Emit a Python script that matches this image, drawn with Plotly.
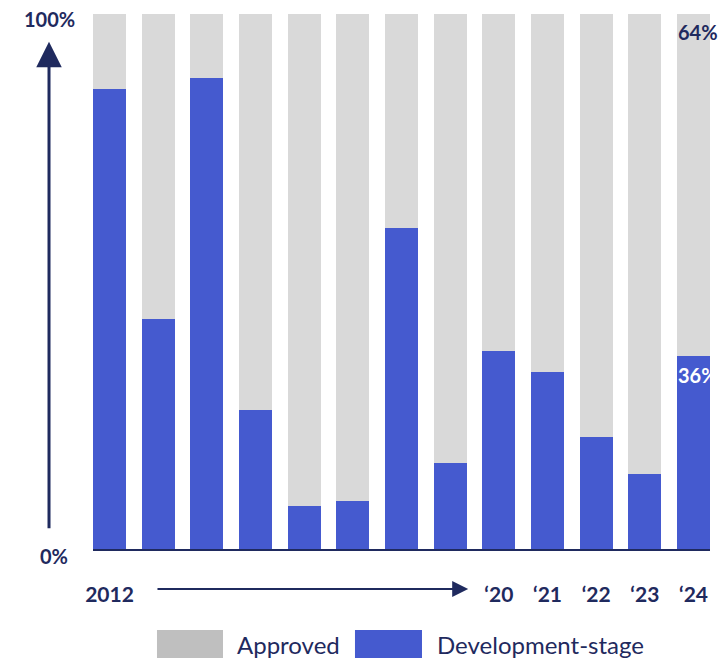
import plotly.graph_objects as go

years = ["2012", "2013", "2014", "2015", "2016", "2017", "2018", "2019",
         "2020", "2021", "2022", "2023", "2024"]
tick_labels = ["2012", "", "", "", "", "", "", "", "\u201820", "\u201821", "\u201822", "\u201823", "\u201824"]
development = [86, 43, 88, 26, 8, 9, 60, 16, 37, 33, 21, 14, 36]
approved = [14, 57, 12, 74, 92, 91, 40, 84, 63, 67, 79, 86, 64]

NAVY = "#1f2a5e"
BLUE = "#455acf"
GREY = "#d9d9d9"
FONT = "Lato"

x = list(range(len(years)))

fig = go.Figure()
fig.add_bar(x=x, y=development, marker_color=BLUE, name="Development-stage",
            marker_line_width=0)
fig.add_bar(x=x, y=approved, marker_color=GREY, name="Approved",
            marker_line_width=0)

fig.update_layout(
    barmode="stack", bargap=0.322,
    width=719, height=659,
    margin=dict(l=93, r=9, t=14, b=110),
    plot_bgcolor="white", paper_bgcolor="white",
    showlegend=False,
    font=dict(family=FONT, color=NAVY),
)
fig.update_xaxes(range=[-0.339, 12.339], tickvals=x, ticktext=tick_labels,
                 showline=True, linecolor=NAVY, linewidth=1.5, showgrid=False,
                 zeroline=False, ticks="", ticklabelstandoff=26,
                 tickfont=dict(family=FONT, size=21, color=NAVY, weight="bold"))
fig.update_yaxes(range=[0, 100], visible=False)

bold = dict(family=FONT, size=20, color=NAVY, weight="bold")

# value labels on the last bar
fig.add_annotation(x=12, y=100, text="64%", showarrow=False, yanchor="middle",
                   xanchor="center", xshift=4, yshift=-18, font=bold)
fig.add_annotation(x=12, y=development[-1], text="36%", showarrow=False,
                   yanchor="middle", xanchor="center", xshift=4, yshift=-19,
                   font=dict(family=FONT, size=20, color="white", weight="bold"))

# y-axis end labels
fig.add_annotation(xref="paper", yref="paper", x=-0.0713, y=0.99, text="100%",
                   showarrow=False, xanchor="center", yanchor="middle", font=bold)
fig.add_annotation(xref="paper", yref="paper", x=-0.063, y=-0.013, text="0%",
                   showarrow=False, xanchor="center", yanchor="middle", font=bold)

# vertical arrow
fig.add_annotation(xref="x domain", yref="y domain", axref="x domain", ayref="y domain",
                   x=-0.0713, y=0.948, ax=-0.0713, ay=0.036, text="",
                   showarrow=True, arrowhead=2, arrowsize=1.7, arrowwidth=3,
                   arrowcolor=NAVY)
# horizontal arrow
fig.add_annotation(xref="x", yref="y domain", axref="x", ayref="y domain",
                   x=7.37, y=-0.0747, ax=0.955, ay=-0.0747, text="",
                   showarrow=True, arrowhead=2, arrowsize=1.6, arrowwidth=2,
                   arrowcolor=NAVY)

# custom legend
fig.add_shape(type="rect", xref="paper", yref="paper", x0=0.1037, x1=0.2107,
              y0=-0.2037, y1=-0.1514, fillcolor="#bfbfbf", line_width=0)
fig.add_annotation(xref="paper", yref="paper", x=0.2301, y=-0.1776, text="Approved",
                   showarrow=False, xanchor="left", yanchor="middle",
                   font=dict(family=FONT, size=24, color=NAVY))
fig.add_shape(type="rect", xref="paper", yref="paper", x0=0.4246, x1=0.5332,
              y0=-0.2037, y1=-0.1514, fillcolor=BLUE, line_width=0)
fig.add_annotation(xref="paper", yref="paper", x=0.5543, y=-0.1776,
                   text="Development-stage", showarrow=False, xanchor="left",
                   yanchor="middle", font=dict(family=FONT, size=24, color=NAVY))

fig.write_html("out.html")
